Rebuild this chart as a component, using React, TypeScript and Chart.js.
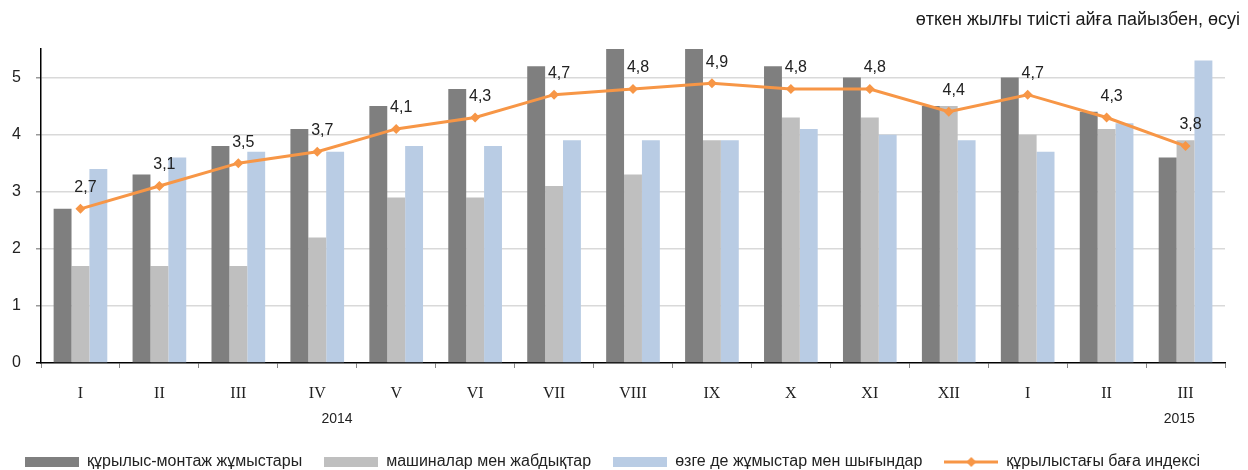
import React, { useEffect, useRef } from 'react';
import { Chart, registerables } from 'chart.js';

Chart.register(...registerables);

const categories = ['I', 'II', 'III', 'IV', 'V', 'VI', 'VII', 'VIII', 'IX', 'X', 'XI', 'XII', 'I', 'II', 'III'];
const constructionWorks = [2.7, 3.3, 3.8, 4.1, 4.5, 4.8, 5.2, 5.5, 5.5, 5.2, 5.0, 4.5, 5.0, 4.4, 3.6];
const machinery = [1.7, 1.7, 1.7, 2.2, 2.9, 2.9, 3.1, 3.3, 3.9, 4.3, 4.3, 4.5, 4.0, 4.1, 3.9];
const otherCosts = [3.4, 3.6, 3.7, 3.7, 3.8, 3.8, 3.9, 3.9, 3.9, 4.1, 4.0, 3.9, 3.7, 4.2, 5.3];
const priceIndex = [2.7, 3.1, 3.5, 3.7, 4.1, 4.3, 4.7, 4.8, 4.9, 4.8, 4.8, 4.4, 4.7, 4.3, 3.8];
const seriesNames = [
  'құрылыс-монтаж жұмыстары',
  'машиналар мен жабдықтар',
  'өзге де жұмыстар мен шығындар',
  'құрылыстағы баға индексі',
];
const yearLabels = ['2014', '2015'];
const yearAnchors = [3.25, 13.92];
const titleText = 'өткен жылғы тиісті айға пайызбен, өсуі';

const FONT = '"Liberation Sans", Arial, sans-serif';
const CANVAS_H = 480;
const C_DARK = '#7f7f7f';
const C_GRAY = '#bfbfbf';
const C_BLUE = '#b9cce4';
const C_ORANGE = '#f79646';

function makeSwatch(color: string, isLine: boolean): HTMLCanvasElement {
  const c = document.createElement('canvas');
  c.width = 54;
  c.height = isLine ? 12 : 10;
  const g = c.getContext('2d')!;
  if (isLine) {
    g.strokeStyle = color;
    g.lineWidth = 3;
    g.beginPath();
    g.moveTo(0, 6);
    g.lineTo(54, 6);
    g.stroke();
    g.fillStyle = color;
    g.beginPath();
    g.moveTo(27, 1);
    g.lineTo(32, 6);
    g.lineTo(27, 11);
    g.lineTo(22, 6);
    g.closePath();
    g.fill();
  } else {
    g.fillStyle = color;
    g.fillRect(0, 0, 54, 10);
  }
  return c;
}

export default function App() {
  const ref = useRef<HTMLCanvasElement>(null);

  useEffect(() => {
    const canvas = ref.current!;
    const swatches = [
      makeSwatch(C_DARK, false),
      makeSwatch(C_GRAY, false),
      makeSwatch(C_BLUE, false),
      makeSwatch(C_ORANGE, true),
    ];

    const extrasPlugin = {
      id: 'extras',
      afterDraw(chart: any) {
        const ctx = chart.ctx;
        const xs = chart.scales.x;
        ctx.save();
        // title
        ctx.font = `18px ${FONT}`;
        ctx.fillStyle = '#1a1a1a';
        ctx.textAlign = 'right';
        ctx.textBaseline = 'middle';
        ctx.fillText(titleText, 1240, 20);
        // years
        ctx.font = `14px ${FONT}`;
        ctx.fillStyle = '#222';
        ctx.textAlign = 'center';
        yearLabels.forEach((t, i) => {
          ctx.fillText(t, xs.getPixelForValue(yearAnchors[i]), 419);
        });
        // data labels on line
        const meta = chart.getDatasetMeta(3);
        ctx.font = `16px ${FONT}`;
        ctx.fillStyle = '#222';
        meta.data.forEach((pt: any, i: number) => {
          const v = priceIndex[i];
          ctx.fillText(v.toFixed(1).replace('.', ','), pt.x + 5, pt.y - 21);
        });
        ctx.restore();
      },
    };

    const chart = new Chart(canvas, {
      type: 'bar',
      data: {
        labels: categories,
        datasets: [
          { type: 'bar', label: seriesNames[0], data: constructionWorks, backgroundColor: C_DARK, order: 1, barPercentage: 1, categoryPercentage: 0.68 },
          { type: 'bar', label: seriesNames[1], data: machinery, backgroundColor: C_GRAY, order: 1, barPercentage: 1, categoryPercentage: 0.68 },
          { type: 'bar', label: seriesNames[2], data: otherCosts, backgroundColor: C_BLUE, order: 1, barPercentage: 1, categoryPercentage: 0.68 },
          {
            type: 'line',
            label: seriesNames[3],
            data: priceIndex,
            borderColor: C_ORANGE,
            backgroundColor: C_ORANGE,
            borderWidth: 3,
            pointStyle: 'rectRot',
            pointRadius: 5,
            pointBorderWidth: 0,
            tension: 0,
            order: 0,
          } as any,
        ],
      },
      options: {
        responsive: false,
        animation: false,
        layout: { padding: { top: 49, right: 23, left: 0, bottom: 0 } },
        plugins: {
          tooltip: { enabled: false },
          title: { display: false },
          legend: {
            position: 'bottom',
            align: 'center',
            labels: {
              usePointStyle: true,
              pointStyleWidth: 54,
              boxHeight: 10,
              padding: 22,
              color: '#222',
              font: { family: FONT, size: 16 },
              sort: (a: any, b: any) => a.datasetIndex - b.datasetIndex,
              generateLabels: (ch: any) =>
                ch.data.datasets.map((ds: any, i: number) => ({
                  text: ds.label,
                  datasetIndex: i,
                  pointStyle: swatches[i],
                  fillStyle: 'transparent',
                  strokeStyle: 'transparent',
                  lineWidth: 0,
                  fontColor: '#222',
                  hidden: false,
                })),
            },
          },
        },
        scales: {
          x: {
            grid: {
              display: true,
              drawOnChartArea: false,
              offset: true,
              tickLength: 5,
              tickColor: '#888',
            },
            border: { display: true, color: '#000', width: 1.5 },
            ticks: {
              color: '#222',
              padding: 16,
              font: { family: '"Liberation Serif", "Times New Roman", serif', size: 16 },
              maxRotation: 0,
            },
            afterFit: (s: any) => {
              s.height = 69;
            },
          },
          y: {
            min: 0,
            max: 5.5,
            ticks: {
              stepSize: 1,
              color: '#222',
              padding: 15,
              font: { family: FONT, size: 16 },
            },
            afterBuildTicks: (s: any) => {
              s.ticks = s.ticks.filter((t: any) => Number.isInteger(t.value));
            },
            grid: {
              color: (c: any) => (c.tick && c.tick.value === 0 ? 'rgba(0,0,0,0)' : '#d9d9d9'),
              tickColor: (c: any) => (c.tick && c.tick.value === 0 ? '#000' : '#999'),
              tickLength: 5,
              lineWidth: 1.5,
            },
            border: { display: true, color: '#000', width: 1.5 },
            afterFit: (s: any) => {
              s.width = 41;
            },
          },
        },
      },
      plugins: [extrasPlugin],
    } as any);

    return () => chart.destroy();
  }, []);

  return (
    <div style={{ position: 'absolute', left: 0, top: 0, width: 1248, height: 470, overflow: 'hidden', background: '#fff' }}>
      <canvas ref={ref} width={1248} height={CANVAS_H} style={{ display: 'block' }} />
    </div>
  );
}
